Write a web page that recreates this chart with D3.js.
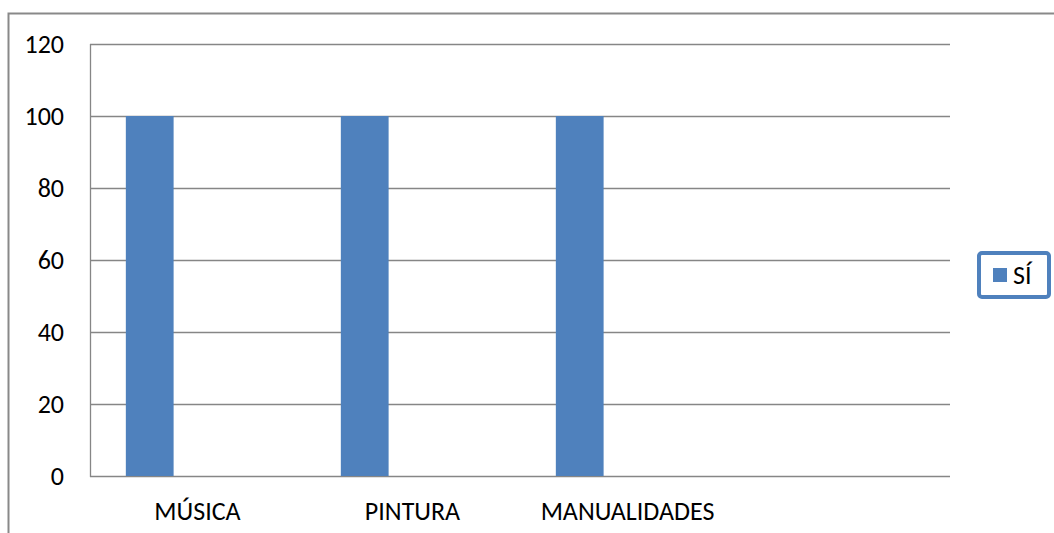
<!DOCTYPE html>
<html>
<head>
<meta charset="utf-8">
<script src="https://cdn.jsdelivr.net/npm/d3@7"></script>
<style>
  body { margin: 0; background: #fff; }
  text { font-family: Carlito, "Open Sans", "Liberation Sans", sans-serif; fill: #000; }
</style>
</head>
<body>
<svg id="chart" width="1054" height="533"></svg>
<script>
const categories = ["MÚSICA", "PINTURA", "MANUALIDADES", ""];
const siValues = [100, 100, 100, null];
const yTicks = [0, 20, 40, 60, 80, 100, 120];
const seriesName = "SÍ";

const svg = d3.select("#chart");
const plotLeft = 90, plotRight = 950, plotTop = 44, plotBottom = 476;
const fontSize = "26px";

// outer chart border (cut off on right and bottom)
svg.append("path")
  .attr("d", "M8.5,533 L8.5,13.5 L1054,13.5")
  .attr("fill", "none")
  .attr("stroke", "#898989")
  .attr("stroke-width", 2);

const x = d3.scaleBand().domain(categories).range([plotLeft, plotRight]);
const y = d3.scaleLinear().domain([0, 120]).range([plotBottom, plotTop]);

// three slots per category, Excel clustered layout (gap 150%)
const slot = d3.scaleBand().domain([0, 1, 2]).range([0, x.bandwidth()])
  .paddingInner(0).paddingOuter(0.75);

// gridlines
svg.append("g")
  .selectAll("line")
  .data(yTicks)
  .enter()
  .append("line")
  .attr("x1", plotLeft)
  .attr("x2", plotRight)
  .attr("y1", d => Math.round(y(d)) + 0.5)
  .attr("y2", d => Math.round(y(d)) + 0.5)
  .attr("stroke", "#868686")
  .attr("stroke-width", 1.3);

// y axis line
svg.append("line")
  .attr("x1", plotLeft + 0.5).attr("x2", plotLeft + 0.5)
  .attr("y1", plotTop).attr("y2", plotBottom + 1)
  .attr("stroke", "#868686")
  .attr("stroke-width", 1.3);

// y labels
svg.append("g")
  .selectAll("text")
  .data(yTicks)
  .enter()
  .append("text")
  .attr("x", 64)
  .attr("y", d => y(d))
  .attr("dy", "0.35em")
  .attr("text-anchor", "end")
  .attr("font-size", fontSize)
  .text(d => d);

// bars
svg.append("g")
  .selectAll("rect")
  .data(categories.map((c, i) => ({ c, v: siValues[i] })).filter(d => d.v != null))
  .enter()
  .append("rect")
  .attr("x", d => x(d.c) + slot(0))
  .attr("width", slot.bandwidth())
  .attr("y", d => y(d.v))
  .attr("height", d => y(0) - y(d.v))
  .attr("fill", "#4f81bd");

// x labels
svg.append("g")
  .selectAll("text")
  .data(categories)
  .enter()
  .append("text")
  .attr("x", d => x(d) + x.bandwidth() / 2)
  .attr("y", 520)
  .attr("text-anchor", "middle")
  .attr("font-size", fontSize)
  .text(d => d);

// legend
const lg = svg.append("g");
lg.append("rect")
  .attr("x", 979).attr("y", 253)
  .attr("width", 70).attr("height", 44)
  .attr("rx", 3)
  .attr("fill", "#fff")
  .attr("stroke", "#4f81bd")
  .attr("stroke-width", 4);
lg.append("rect")
  .attr("x", 993).attr("y", 268)
  .attr("width", 14).attr("height", 14)
  .attr("fill", "#4f81bd");
lg.append("text")
  .attr("x", 1013).attr("y", 275)
  .attr("dy", "0.35em")
  .attr("font-size", fontSize)
  .text(seriesName);
</script>
</body>
</html>
